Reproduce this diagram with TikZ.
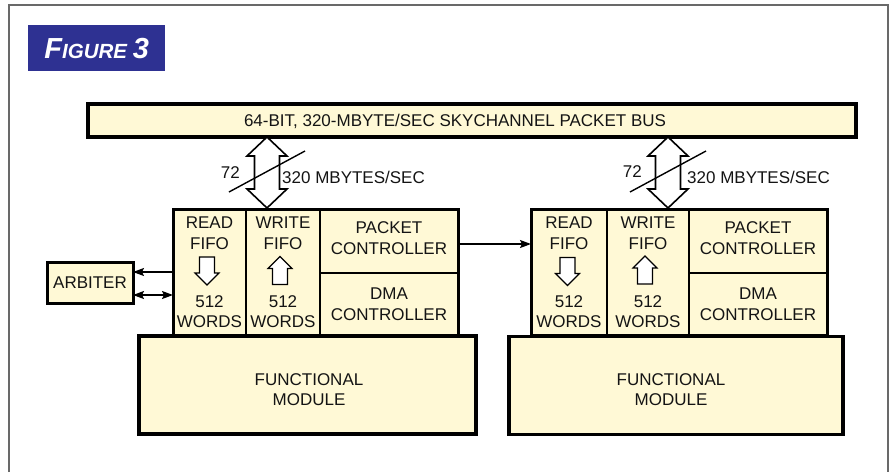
\documentclass[tikz,border=0pt]{standalone}
\usepackage{fontspec}
\setmainfont{Liberation Sans}
\usetikzlibrary{arrows.meta}
\definecolor{boxfill}{RGB}{255,249,214}
\definecolor{figblue}{RGB}{46,49,146}
\definecolor{framegray}{RGB}{105,105,105}
\tikzset{
  txt/.style={font=\fontsize{17}{20.5}\selectfont, align=center, inner sep=0pt, text=black!92},
  unit/.style={draw=black, fill=boxfill, line width=3pt, inner sep=0pt, outer sep=0pt},
  divider/.style={line width=2pt},
  conn/.style={line width=1.6pt, -{Stealth[length=11pt,width=8pt,inset=2pt]}},
  biconn/.style={line width=1.6pt, {Stealth[length=11pt,width=8pt,inset=2pt]}-{Stealth[length=11pt,width=8pt,inset=2pt]}},
  busarrow/.pic={
    \draw[line width=1.6pt, fill=white, line join=miter]
      (0,-35.5) -- (20,-16.5) -- (12.5,-16.5) -- (12.5,16.5) -- (20,16.5) -- (0,35.5)
      -- (-20,16.5) -- (-12.5,16.5) -- (-12.5,-16.5) -- (-20,-16.5) -- cycle;
  },
  fifoarrow/.pic={
    \draw[line width=1.2pt, fill=white, line join=miter]
      (-7.5,-14) -- (7.5,-14) -- (7.5,2) -- (12,2) -- (0,14) -- (-12,2) -- (-7.5,2) -- cycle;
  },
}
\begin{document}
\begin{tikzpicture}[x=1pt, y=-1pt]
\useasboundingbox (0,0) rectangle (894,472);

% outer frame, open at the bottom
\draw[framegray, line width=2pt] (9,472) -- (9,5) -- (888,5) -- (888,472);

% figure tag
\node[fill=figblue, minimum width=137, minimum height=46, inner sep=0pt, anchor=north west,
      text=white, font=\bfseries\itshape] (figtag) at (28,25)
  {\fontsize{29}{29}\selectfont F\fontsize{20.5}{20.5}\selectfont IGURE \fontsize{29}{29}\selectfont 3};

% packet bus
\node[unit, line width=3.5pt, minimum width=768, minimum height=33] (bus) at (472,120.5) {};
\node[txt] (bustext) at (455,121) {64-BIT, 320-MBYTE/SEC SKYCHANNEL PACKET BUS};

% ---------- left interface unit ----------
\node[unit, minimum width=285, minimum height=126] (modL) at (315.5,272) {};
\draw[divider] (246,209) -- (246,335);
\draw[divider] (320,209) -- (320,335);
\draw[divider] (320,273) -- (458,273);
\node[txt] (rdL)  at (209.5,233) {READ\\FIFO};
\node[txt] (wrL)  at (283,233)   {WRITE\\FIFO};
\node[txt] (rdwL) at (209.5,311.5) {512\\WORDS};
\node[txt] (wrwL) at (283,311.5)   {512\\WORDS};
\node[txt] (pcL)  at (389,238) {PACKET\\CONTROLLER};
\node[txt] (dmaL) at (389,304) {DMA\\CONTROLLER};
\pic at (207,271) {fifoarrow};
\pic[yscale=-1] at (280,270.5) {fifoarrow};

\node[unit, line width=3.5pt, minimum width=337, minimum height=98] (fmL) at (307.5,385) {};
\node[txt] (fmLt) at (309,389.5) {FUNCTIONAL\\MODULE};

% bus link, left
\pic at (267,172.5) {busarrow};
\draw[line width=1.4pt] (229,192) -- (305,151);
\node[txt, anchor=east] (wL) at (240,173) {72};
\node[txt, anchor=west] (rateL) at (282,177) {320 MBYTES/SEC};

% arbiter
\node[unit, minimum width=86, minimum height=41] (arb) at (90,282.5) {};
\node[txt] (arbt) at (90,283) {ARBITER};
\draw[conn] (modL.west |- 0,272) -- (arb.east |- 0,272);
\draw[biconn] (modL.west |- 0,295) -- (arb.east |- 0,295);

% ---------- right interface unit ----------
\node[unit, minimum width=296, minimum height=126] (modR) at (679,272) {};
\draw[divider] (607,209) -- (607,335);
\draw[divider] (689,209) -- (689,335);
\draw[divider] (689,273) -- (827,273);
\node[txt] (rdR)  at (569,233) {READ\\FIFO};
\node[txt] (wrR)  at (648,233) {WRITE\\FIFO};
\node[txt] (rdwR) at (569,311.5) {512\\WORDS};
\node[txt] (wrwR) at (648,311.5) {512\\WORDS};
\node[txt] (pcR)  at (758,238) {PACKET\\CONTROLLER};
\node[txt] (dmaR) at (758,304) {DMA\\CONTROLLER};
\pic at (567.5,271.5) {fifoarrow};
\pic[yscale=-1] at (645,270) {fifoarrow};

\node[unit, line width=3.5pt, minimum width=334, minimum height=98] (fmR) at (676,385.5) {};
\node[txt] (fmRt) at (671,389.5) {FUNCTIONAL\\MODULE};

% bus link, right
\pic at (668,172.5) {busarrow};
\draw[line width=1.4pt] (630,192) -- (706,151);
\node[txt, anchor=east] (wR) at (642,172) {72};
\node[txt, anchor=west] (rateR) at (687,177) {320 MBYTES/SEC};

% packet controller to packet controller
\draw[conn] (modL.east |- 0,244) -- (modR.west |- 0,244);
\end{tikzpicture}
\end{document}
